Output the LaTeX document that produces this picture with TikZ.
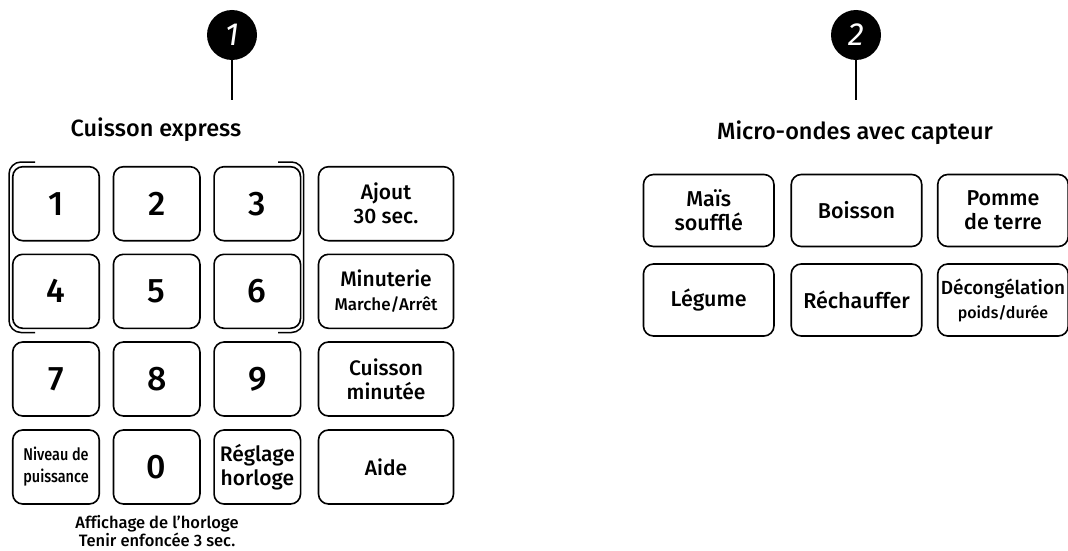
\documentclass[tikz,border=0pt]{standalone}
\usepackage{fontspec}
\setmainfont{Fira Sans}[Ligatures=NoCommon, BoldFont={Fira Sans Medium}]
\begin{document}
\begin{tikzpicture}[x=1pt,y=-1pt,
  key/.style={draw, line width=1.6pt, rounded corners=10pt, align=center,
    inner sep=0pt, font=\bfseries\fontsize{21}{24}\selectfont},
  pad/.style={key, minimum width=86.5pt, minimum height=74pt},
  wide/.style={key, minimum width=135pt, minimum height=74pt},
  sensor/.style={key, minimum width=130.5pt, minimum height=72pt, font=\bfseries\fontsize{21.5}{24}\selectfont},
  digit/.style={pad, font=\bfseries\fontsize{34}{34}\selectfont},
  title/.style={font=\bfseries\fontsize{23.5}{26}\selectfont},
  badge/.style={circle, fill=black, minimum size=50pt, inner sep=0pt,
    text=white, font=\itshape\fontsize{32}{32}\selectfont},
  small/.style={font=\bfseries\fontsize{16.5}{15}\selectfont},
  stem/.style={line width=1.6pt}]
\useasboundingbox (0,0) rectangle (1068,551);

% keypad
\node[digit] (k1) at (56,203.7) {1};
\node[digit] (k2) at (156.7,203.7) {2};
\node[digit] (k3) at (257.3,203.7) {3};
\node[digit] (k4) at (56,291.3) {4};
\node[digit] (k5) at (156.7,291.3) {5};
\node[digit] (k6) at (257.3,291.3) {6};
\node[digit] (k7) at (56,379) {7};
\node[digit] (k8) at (156.7,379) {8};
\node[digit] (k9) at (257.3,379) {9};
\node[pad, font=\bfseries\fontsize{17}{22}\selectfont] (power) at (56,467)
  {\scalebox{0.85}[1]{Niveau de}\\\scalebox{0.85}[1]{puissance}};
\node[digit] (k0) at (156.7,467) {0};
\node[pad] (clock) at (257.3,467) {Réglage\\horloge};

% function column
\node[wide] (add) at (386,203.7) {Ajout\\30 sec.};
\node[wide] (timer) at (386,291.3) {Minuterie\\{\fontsize{17}{20}\selectfont Marche/Arrêt}};
\node[wide] (timed) at (386,379) {Cuisson\\minutée};
\node[wide] (help) at (386,467) {Aide};

% bracket around keys 1-6
\draw[line width=1.5pt, rounded corners=12pt]
  (35,162) -- (9,162) -- (9,332.5) -- (35,332.5);
\draw[line width=1.5pt, rounded corners=12pt]
  (278,162) -- (303.5,162) -- (303.5,332.5) -- (278,332.5);

\node[small, align=center] (hint) at (157,531)
  {Affichage de l'horloge\\Tenir enfoncée 3 sec.};

% section 1 header
\node[title] (t1) at (156,130) {Cuisson express};
\node[badge] (b1) at (232,35) {1};
\coordinate (s1) at (232,100);
\draw[stem] (b1.south) -- (s1);

% section 2 header
\node[title] (t2) at (855,133) {Micro-ondes avec capteur};
\node[badge] (b2) at (856,35) {2};
\coordinate (s2) at (856,100);
\draw[stem] (b2.south) -- (s2);

% sensor keys
\node[sensor] (pop) at (708.7,210.5) {Maïs\\soufflé};
\node[sensor] (bev) at (856.5,210.5) {Boisson};
\node[sensor] (pot) at (1003,210.5) {Pomme\\de terre};
\node[sensor] (veg) at (708.7,300) {Légume};
\node[sensor] (reh) at (856.5,300) {Réchauffer};
\node[sensor] (def) at (1003,300) {{\fontsize{19}{20}\selectfont Décongélation}\\{\fontsize{16}{18}\selectfont poids/durée}};
\end{tikzpicture}
\end{document}
